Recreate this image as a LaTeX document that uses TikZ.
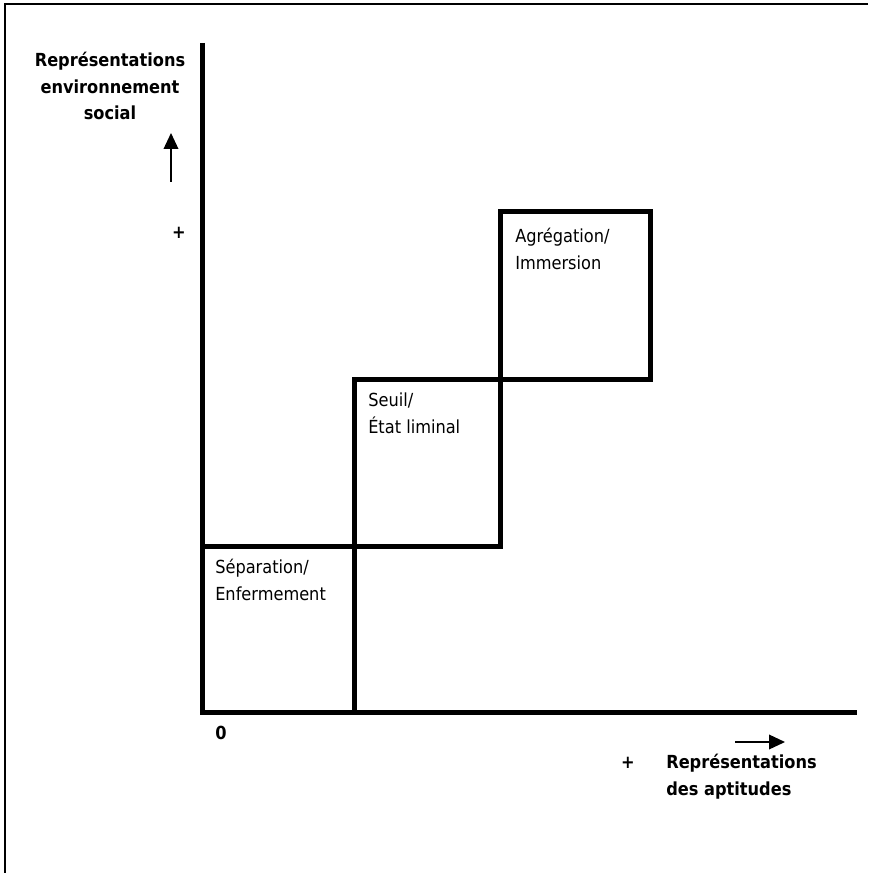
\documentclass[tikz,border=0pt]{standalone}
\usepackage{fontspec}
\setmainfont{DejaVu Sans Condensed}
\usetikzlibrary{arrows.meta}

\begin{document}
\begin{tikzpicture}[x=0.75pt, y=-0.75pt,
    heavy/.style={line width=3.75pt},
    lbl/.style={font=\fontsize{13.5}{20}\selectfont, align=left, inner sep=0pt, anchor=north west},
    ttl/.style={font=\bfseries\fontsize{13.5}{20}\selectfont, inner sep=0pt},
    dir/.style={line width=1.1pt, -{Triangle[length=12pt, width=11pt]}}]
    \useasboundingbox (0,0) rectangle (868,873);
    \draw[line width=1.5pt] (868,4) -| (5,873);

    \path
    coordinate (o) at (202,712)
    coordinate (top) at (202,43)
    coordinate (end) at (857,712)
    coordinate (s1) at (354,546)
    coordinate (s2) at (500,379)
    coordinate (s3) at (650,212)
    coordinate (up0) at (171,182)
    coordinate (up1) at (171,133)
    coordinate (rt0) at (735,742)
    coordinate (rt1) at (785,742);

    \draw[heavy] (top) |- (end);
    \draw[heavy] (o |- s1) -| (s1 |- o);
    \draw[heavy] (s1) rectangle (s2);
    \draw[heavy] (s2) rectangle (s3);

    \path
    node[lbl] (sep) at (215,559) {Séparation/\\Enfermement}
    node[lbl] (seuil) at (368,393) {Seuil/\\État liminal}
    node[lbl] (agreg) at (515,228) {Agrégation/\\Immersion};

    \path
    node[ttl, align=center, anchor=north] (ylab) at (110,52) {Représentations\\environnement\\social}
    node[ttl, align=left, anchor=north west] (xlab) at (666,754) {Représentations\\des aptitudes}
    node[ttl] (plusy) at (179,233) {+}
    node[ttl] (zero) at (221,733) {0}
    node[ttl] (plusx) at (628,763) {+};

    \draw[dir] (up0) -- (up1);
    \draw[dir] (rt0) -- (rt1);
\end{tikzpicture}
\end{document}
